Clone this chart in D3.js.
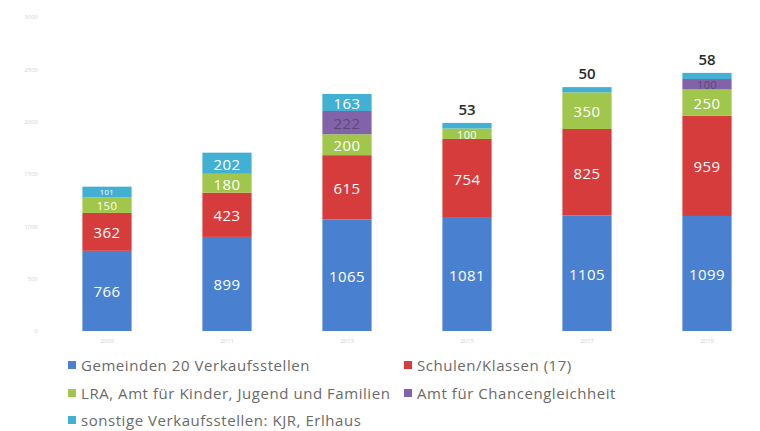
<!DOCTYPE html>
<html><head><meta charset="utf-8">
<script src="https://cdn.jsdelivr.net/npm/d3@7"></script>
<style>html,body{margin:0;padding:0;background:#fff;}svg{display:block;}</style>
</head><body><svg id="c" width="760" height="431"></svg>
<script>
const years = ["2009","2011","2013","2015","2017","2019"];
const seriesNames = ["Gemeinden 20 Verkaufsstellen","Schulen/Klassen (17)","LRA, Amt für Kinder, Jugend und Familien","Amt für Chancengleichheit","sonstige Verkaufsstellen: KJR, Erlhaus"];
const gemeinden = [766,899,1065,1081,1105,1099];
const schulen = [362,423,615,754,825,959];
const lra = [150,180,200,100,350,250];
const amt = [0,0,222,0,0,100];
const sonstige = [101,202,163,53,50,58];
const yTicks = [0,500,1000,1500,2000,2500,3000];
const colors = ["#4a80d0","#d63c3c","#a0c64c","#8262a8","#42b0d2"];

const keys = ["g","s","l","a","o"];
const table = years.map((y,i)=>({year:y,g:gemeinden[i],s:schulen[i],l:lra[i],a:amt[i],o:sonstige[i]}));
const stack = d3.stack().keys(keys)(table);

const svg = d3.select("#c");
const x = d3.scaleBand().domain(years).range([47,767]).paddingInner(0.59).paddingOuter(0.295);
const y = d3.scaleLinear().domain([0,3000]).range([331,17]);

// axes (faint)
const ya = svg.append("g").attr("transform","translate(40,0)").call(d3.axisLeft(y).tickValues(yTicks).tickFormat(d3.format("d")).tickSize(0).tickPadding(2));
ya.select(".domain").remove();
ya.selectAll("text").attr("fill","#d4d4d4").style("font-family","Open Sans").style("font-size","6px");
const xa = svg.append("g").attr("transform","translate(0,331)").call(d3.axisBottom(x).tickSize(0).tickPadding(8));
xa.select(".domain").remove();
xa.selectAll("text").attr("fill","#d0d0d0").style("font-family","Open Sans").style("font-size","6px");

const layers = svg.append("g").selectAll("g").data(stack).join("g").attr("fill",(d,i)=>colors[i]);
layers.selectAll("rect").data(d=>d).join("rect")
  .attr("x",d=>x(d.data.year)).attr("width",x.bandwidth())
  .attr("y",d=>y(d[1])).attr("height",d=>y(d[0])-y(d[1]));

// labels
const isInside = (k,v)=> v>0 && !(k===4 && v<60);
years.forEach((yr,i)=>{
  const segs = stack.map((layer,k)=>({k, d:layer[i], v:layer[i][1]-layer[i][0], h:y(layer[i][0])-y(layer[i][1])}));
  const inside = segs.filter(s=>isInside(s.k,s.v));
  const cx = x(yr)+x.bandwidth()/2;
  inside.forEach((s,j)=>{
    const nb = [inside[j-1],inside[j+1]].filter(Boolean);
    const crowded = nb.some(n=>n.h<14) || s.h<14 && nb.some(n=>n.h<20);
    const f = crowded ? Math.min(15, s.h*0.72) : Math.min(15, s.h+0.5);
    svg.append("text").attr("x",cx).attr("y",(y(s.d[0])+y(s.d[1]))/2+0.5).attr("text-anchor","middle")
      .attr("dominant-baseline","central").attr("fill", s.k===3 ? "#5a4a7a" : "#fff")
      .style("font-family","Open Sans").style("font-size", f+"px")
      .style("letter-spacing","0.4px").text(s.v);
  });
  segs.filter(s=>s.v>0 && !isInside(s.k,s.v)).forEach(s=>{
    svg.append("text").attr("x",cx).attr("y",y(s.d[1])-14).attr("text-anchor","middle")
      .attr("dominant-baseline","central").attr("fill","#2b2b2b")
      .style("font-family","Open Sans").style("font-size","15px").style("font-weight","600").text(s.v);
  });
});

// legend
const legPos = [[68,365],[404,365],[68,393],[404,393],[68,420]];
seriesNames.forEach((n,i)=>{
  const [lx,ly]=legPos[i];
  svg.append("rect").attr("x",lx).attr("y",ly-4).attr("width",8).attr("height",8).attr("fill",colors[i]);
  svg.append("text").attr("x",lx+13).attr("y",ly).attr("dominant-baseline","central")
    .attr("fill","#6a6a6a").style("font-family","Open Sans").style("font-size","15px")
    .style("letter-spacing","0.55px").text(n);
});
</script></body></html>
